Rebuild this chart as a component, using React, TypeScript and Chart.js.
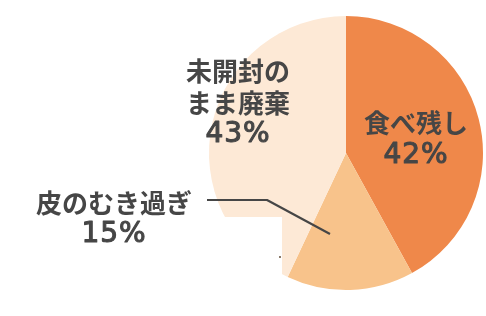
import React, { useEffect, useRef } from "react";
import { Chart, registerables } from "chart.js";

Chart.register(...registerables);

const categories = ["食べ残し", "皮のむき過ぎ", "未開封のまま廃棄"];
const values = [42, 15, 43];
const colors = ["#EF884A", "#F8C38B", "#FDE9D6"];
const labelLines = [
  ["食べ残し", "42%"],
  ["皮のむき過ぎ", "15%"],
  ["未開封の", "まま廃棄", "43%"],
];

const labelPlugin = {
  id: "customLabels",
  afterDatasetsDraw(chart: any) {
    const ctx = chart.ctx;
    ctx.save();
    // white mask behind lower-left label area
    ctx.fillStyle = "#ffffff";
    ctx.fillRect(0, 217, 282, 99);
    ctx.fillStyle = "#8a7a6a";
    ctx.fillRect(279, 256, 2, 2);

    ctx.fillStyle = "#464646";
    ctx.strokeStyle = "#464646";
    ctx.lineJoin = "round";
    ctx.textAlign = "center";
    ctx.textBaseline = "middle";
    const pos = [
      { x: 416, ys: [123, 156] },
      { x: 114, ys: [203, 235] },
      { x: 238, ys: [71, 103, 135] },
    ];
    labelLines.forEach((lines, i) => {
      lines.forEach((t, j) => {
        const isPct = t.endsWith("%");
        if (isPct) {
          ctx.font = "28px 'DejaVu Sans', sans-serif";
          (ctx as any).letterSpacing = "1px";
          ctx.lineWidth = 1.1;
          ctx.fillText(t, pos[i].x, pos[i].ys[j]);
          ctx.strokeText(t, pos[i].x, pos[i].ys[j]);
          (ctx as any).letterSpacing = "0px";
        } else {
          ctx.font = "bold 26px 'Noto Sans CJK JP', sans-serif";
          ctx.fillText(t, pos[i].x, pos[i].ys[j]);
        }
      });
    });

    // leader line
    ctx.strokeStyle = "#464646";
    ctx.lineWidth = 2.2;
    ctx.beginPath();
    ctx.moveTo(207, 200);
    ctx.lineTo(267, 200);
    ctx.lineTo(330, 234);
    ctx.stroke();
    ctx.restore();
  },
};

export default function App() {
  const ref = useRef<HTMLCanvasElement>(null);
  useEffect(() => {
    if (!ref.current) return;
    const chart = new Chart(ref.current, {
      type: "pie",
      data: {
        labels: categories,
        datasets: [
          {
            data: values,
            backgroundColor: colors,
            borderWidth: 0,
          },
        ],
      },
      options: {
        responsive: false,
        animation: false,
        layout: { padding: { top: 16, bottom: 26, left: 209, right: 3 } },
        plugins: {
          legend: { display: false },
          tooltip: { enabled: false },
        },
      },
      plugins: [labelPlugin],
    });
    return () => chart.destroy();
  }, []);
  return (
    <div style={{ position: "fixed", left: 0, top: 0, width: 486, height: 316, background: "#fff" }}>
      <canvas ref={ref} width={486} height={316} />
    </div>
  );
}
